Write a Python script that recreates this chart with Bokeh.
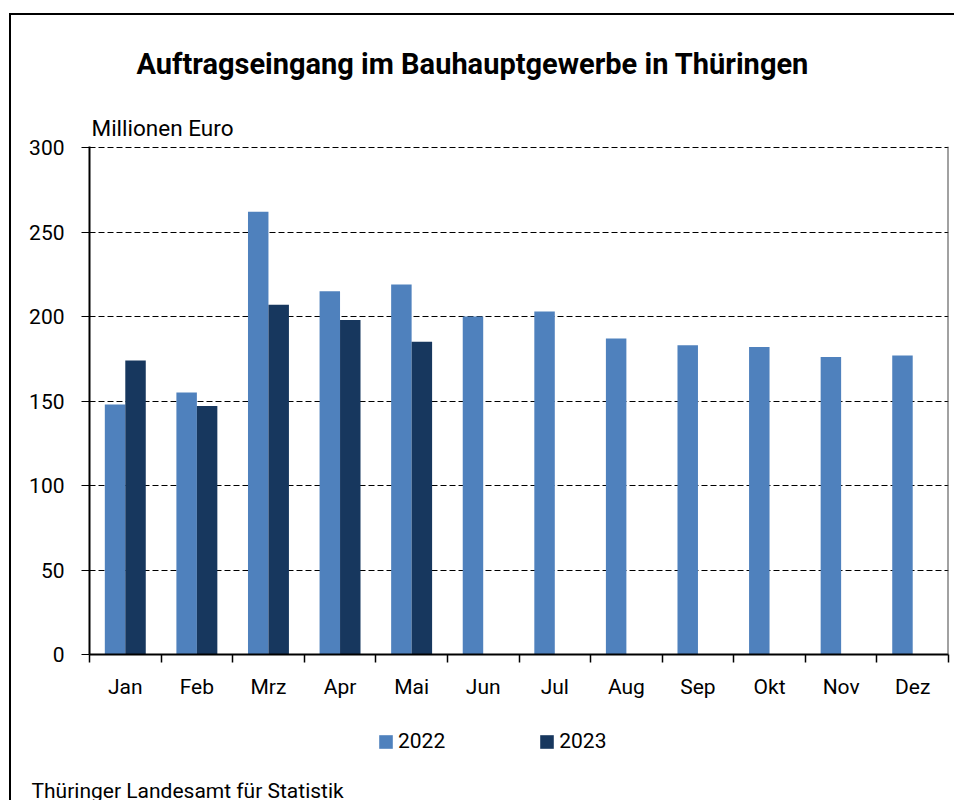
from bokeh.plotting import figure
from bokeh.layouts import column
from bokeh.models import (Range1d, FixedTicker, Legend, LegendItem, Title,
                          Span, ColumnDataSource)
from bokeh.embed import file_html
from bokeh.resources import INLINE

# ---- data ----
months = ["Jan", "Feb", "Mrz", "Apr", "Mai", "Jun", "Jul", "Aug", "Sep", "Okt", "Nov", "Dez"]
values_2022 = [148, 155, 262, 215, 219, 200, 203, 187, 183, 182, 176, 177]
values_2023 = [174, 147, 207, 198, 185]
y_ticks = [0, 50, 100, 150, 200, 250, 300]
series_names = ["2022", "2023"]

title_text = "Auftragseingang im Bauhauptgewerbe in Thüringen"
unit_text = "Millionen Euro"
source_text = "Thüringer Landesamt für Statistik"

C2022 = "#4f81bd"
C2023 = "#17375e"
FONT = "Roboto"
FS = "21px"
BAR_W = 0.286

x22 = [i + 0.5 - BAR_W / 2 for i in range(len(values_2022))]
x23 = [i + 0.5 + BAR_W / 2 for i in range(len(values_2023))]
src22 = ColumnDataSource(dict(x=x22, top=values_2022))
src23 = ColumnDataSource(dict(x=x23, top=values_2023))

# ---------------- main chart ----------------
p = figure(width=943, height=699, output_backend="svg", toolbar_location=None,
           x_range=Range1d(0, len(months)), y_range=Range1d(0, 300.6),
           min_border_left=78, min_border_right=6, min_border_top=131,
           min_border_bottom=60)
p.title.visible = False
p.outline_line_color = None
p.background_fill_color = "white"
p.border_fill_color = "white"

p.vbar(x="x", top="top", width=BAR_W, source=src22, fill_color=C2022, line_color=None)
p.vbar(x="x", top="top", width=BAR_W, source=src23, fill_color=C2023, line_color=None)

# grid
p.xgrid.visible = False
p.ygrid.ticker = FixedTicker(ticks=y_ticks)
p.ygrid.grid_line_color = "black"
p.ygrid.grid_line_dash = "6 3"
p.ygrid.grid_line_width = 1

# y axis
ya = p.yaxis[0]
ya.ticker = FixedTicker(ticks=y_ticks)
ya.axis_line_color = "black"
ya.axis_line_width = 2
ya.major_tick_out = 8
ya.major_tick_in = 0
ya.major_tick_line_color = "black"
ya.minor_tick_line_color = None
ya.major_label_standoff = 17
ya.major_label_text_font = FONT
ya.major_label_text_font_size = FS
ya.major_label_text_color = "black"

# x axis: labels at centers, ticks at boundaries (minor)
xa = p.xaxis[0]
centers = [i + 0.5 for i in range(len(months))]
xa.ticker = FixedTicker(ticks=centers, minor_ticks=list(range(len(months) + 1)))
xa.major_label_overrides = {c: m for c, m in zip(centers, months)}
xa.axis_line_color = "black"
xa.axis_line_width = 2
xa.major_tick_line_color = None
xa.major_tick_out = 0
xa.major_tick_in = 0
xa.minor_tick_line_color = "black"
xa.minor_tick_line_width = 1.5
xa.minor_tick_out = 8
xa.minor_tick_in = 0
xa.major_label_standoff = 12
xa.major_label_text_font = FONT
xa.major_label_text_font_size = FS
xa.major_label_text_color = "black"

# right border of plot area
p.add_layout(Span(location=len(months), dimension="height", line_color="#444444", line_width=2))

# titles above (first added = nearest the plot)
p.add_layout(Title(text=unit_text, align="left", offset=2, standoff=11,
                   text_font=FONT, text_font_size="22.5px", text_font_style="normal",
                   text_color="black"), "above")
p.add_layout(Title(text=title_text, align="left", offset=47, standoff=54,
                   text_font=FONT, text_font_size="29px", text_font_style="bold",
                   text_color="black"), "above")

# ---------------- legend + source strip ----------------
p2 = figure(width=943, height=86, output_backend="svg", toolbar_location=None,
            x_range=Range1d(0, 1), y_range=Range1d(0, 1),
            x_axis_location=None, y_axis_location=None, min_border=0)
p2.title.visible = False
p2.grid.visible = False
p2.outline_line_color = None
p2.background_fill_color = "white"
p2.border_fill_color = "white"

# legend swatch carriers (zero-height bars, nothing visible in the strip)
d1 = p2.vbar(x=[0.5], top=[0], width=0.01, fill_color=C2022, line_color=None)
d2 = p2.vbar(x=[0.5], top=[0], width=0.01, fill_color=C2023, line_color=None)

legend = Legend(items=[LegendItem(label=series_names[0], renderers=[d1]),
                       LegendItem(label=series_names[1], renderers=[d2])],
                orientation="horizontal", location=(288, 30),
                glyph_width=17, glyph_height=17, label_standoff=4, spacing=93,
                padding=0, margin=0, border_line_color=None,
                background_fill_alpha=0,
                label_text_font=FONT, label_text_font_size=FS, label_text_color="black")
p2.add_layout(legend)

p2.add_layout(Title(text=source_text, align="left", offset=-58, standoff=-9,
                    vertical_align="top",
                    text_font=FONT, text_font_size=FS, text_font_style="normal",
                    text_color="black"), "below")

layout = column(p, p2, spacing=0,
                styles={"margin-left": "9px", "margin-top": "13px",
                        "border-left": "2px solid black", "border-top": "2px solid black"})

open("out.html", "w").write(file_html(layout, INLINE))
